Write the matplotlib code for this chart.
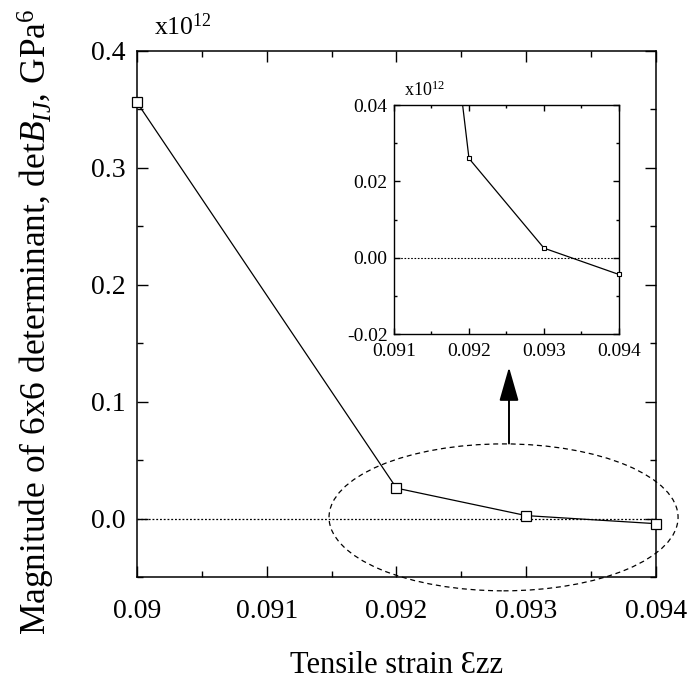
import matplotlib
matplotlib.use("Agg")
import matplotlib.pyplot as plt
from matplotlib.patches import Ellipse
from matplotlib.ticker import MultipleLocator, FixedLocator

matplotlib.rcParams.update({
    "font.family": ["Liberation Serif", "DejaVu Serif"],
    "mathtext.fontset": "custom",
    "mathtext.rm": "Liberation Serif",
    "mathtext.it": "Liberation Serif:italic",
    "axes.linewidth": 1.1,
})

# data (values in units of 1e12 GPa^6)
strain = [0.090, 0.092, 0.093, 0.094]
det_b = [0.356, 0.026, 0.0025, -0.0044]

x_ticks = [0.090, 0.091, 0.092, 0.093, 0.094]
x_ticklabels = ["0.09", "0.091", "0.092", "0.093", "0.094"]
y_ticks = [0.0, 0.1, 0.2, 0.3, 0.4]
y_ticklabels = ["0.0", "0.1", "0.2", "0.3", "0.4"]

in_xlim = (0.091, 0.094)
in_ylim = (-0.02, 0.04)
in_x_ticks = [0.091, 0.092, 0.093, 0.094]
in_x_ticklabels = ["0.091", "0.092", "0.093", "0.094"]
in_y_ticks = [-0.02, 0.0, 0.02, 0.04]
in_y_ticklabels = ["-0.02", "0.00", "0.02", "0.04"]


def style_ticks(ax, major_len, minor_len, size, xpad, ypad):
    ax.tick_params(which="both", direction="in", top=True, right=True,
                   width=1.0, labelsize=size)
    ax.tick_params(which="major", length=major_len)
    ax.tick_params(which="minor", length=minor_len)
    ax.tick_params(axis="x", pad=xpad)
    ax.tick_params(axis="y", pad=ypad)


fig = plt.figure(figsize=(6.95, 6.90), dpi=100)
ax = fig.add_axes([0.1971, 0.1638, 0.7468, 0.7623])

ax.plot(strain, det_b, color="black", lw=0.9, marker="s", ms=6.5,
        mfc="white", mec="black", mew=0.9, zorder=3, clip_on=False)
ax.axhline(0.0, color="black", lw=0.9, ls=(0, (1.5, 1.5)), zorder=2)
ax.set_xlim(0.090, 0.094)
ax.set_ylim(-0.05, 0.4)
ax.xaxis.set_major_locator(FixedLocator(x_ticks))
ax.set_xticklabels(x_ticklabels)
ax.xaxis.set_minor_locator(MultipleLocator(0.0005))
ax.yaxis.set_major_locator(FixedLocator(y_ticks))
ax.set_yticklabels(y_ticklabels)
ax.yaxis.set_minor_locator(MultipleLocator(0.05))
style_ticks(ax, 8, 4.5, 20, 16, 8)

ax.set_xlabel("Tensile strain \u0190zz", fontsize=22)
ax.xaxis.set_label_coords(0.5, -0.168)
ax.xaxis.label.set_va("center")
ax.set_ylabel(r"Magnitude of 6x6 determinant, det$B_{IJ}$, GPa$^{6}$",
              fontsize=25.5)
ax.yaxis.set_label_coords(-0.193, 0.485)
ax.yaxis.label.set_va("center")
ax.text(0.032, 1.03, r"x10$^{12}$", transform=ax.transAxes, fontsize=18.5,
        va="baseline", ha="left")

# dashed ellipse around the zero crossing + arrow to the inset
ell = Ellipse((0.092825, 0.001), 0.00269, 0.1257, fill=False,
              ec="black", lw=0.9, ls=(0, (4, 3)), clip_on=False, zorder=4)
ax.add_patch(ell)
ax.annotate("", xy=(0.092867, 0.1295), xytext=(0.092867, 0.0642),
            arrowprops=dict(arrowstyle="-|>,head_length=1.05,head_width=0.3",
                            mutation_scale=20, color="black", lw=1.4,
                            shrinkA=0, shrinkB=0))

# inset: zoom on the zero crossing
axi = fig.add_axes([0.5669, 0.5159, 0.3237, 0.3319])
axi.plot(strain, det_b, color="black", lw=0.9, zorder=3)
in_pts = [(s, d) for s, d in zip(strain, det_b)
          if in_xlim[0] <= s <= in_xlim[1] and in_ylim[0] <= d <= in_ylim[1]]
axi.plot([p[0] for p in in_pts], [p[1] for p in in_pts], ls="none",
         marker="s", ms=3.2, mfc="white", mec="black", mew=0.8, zorder=4,
         clip_on=False)
axi.axhline(0.0, color="black", lw=0.8, ls=(0, (1.5, 1.5)), zorder=2)
axi.set_xlim(*in_xlim)
axi.set_ylim(*in_ylim)
axi.xaxis.set_major_locator(FixedLocator(in_x_ticks))
axi.set_xticklabels(in_x_ticklabels)
axi.xaxis.set_minor_locator(MultipleLocator(0.0005))
axi.yaxis.set_major_locator(FixedLocator(in_y_ticks))
axi.set_yticklabels(in_y_ticklabels)
axi.yaxis.set_minor_locator(MultipleLocator(0.01))
for sp in axi.spines.values():
    sp.set_linewidth(1.0)
style_ticks(axi, 4, 2.5, 14, 6.5, 4.5)
axi.text(0.044, 1.04, r"x10$^{12}$", transform=axi.transAxes, fontsize=13,
         va="baseline", ha="left")

fig.savefig("out.png", dpi=100)
